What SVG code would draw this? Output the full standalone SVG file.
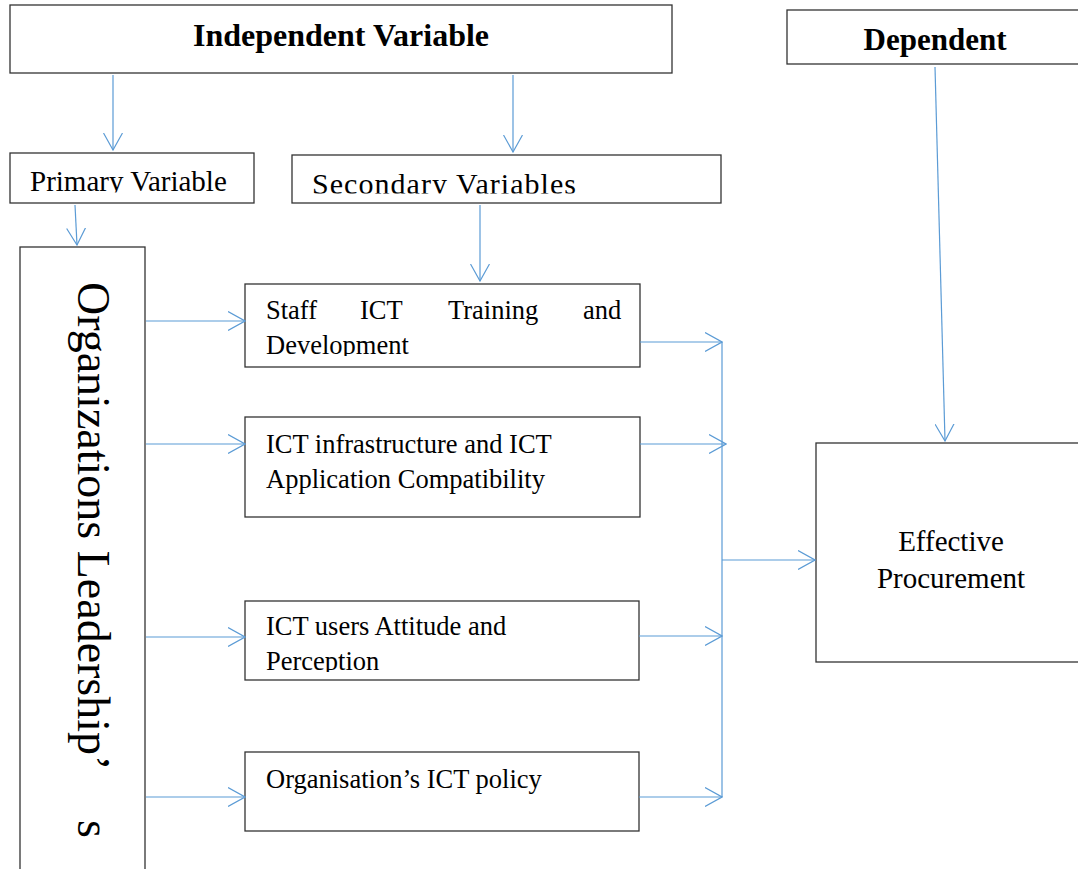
<svg xmlns="http://www.w3.org/2000/svg" width="1078" height="869" viewBox="0 0 1078 869">
<style>
.box{fill:#fff;stroke:#333;stroke-width:1.3}
.t{font-family:"Liberation Serif","Times New Roman",serif;fill:#000}
.b{font-weight:bold}
.c{fill:none;stroke:#5b9bd5;stroke-width:1.2}
</style>
<defs>
<marker id="ah" markerUnits="userSpaceOnUse" viewBox="0 0 18 20" refX="17" refY="10" markerWidth="18" markerHeight="20" orient="auto">
<path d="M0,0.5 L17,10 L0,19.5" fill="none" stroke="#5b9bd5" stroke-width="1.2"/>
</marker>
<clipPath id="cpPrim"><rect x="10" y="153" width="244" height="39.5"/></clipPath>
<clipPath id="cpSec"><rect x="292" y="155" width="429" height="38.5"/></clipPath>
<clipPath id="cpStaff"><rect x="245" y="284" width="395" height="72"/></clipPath>
<clipPath id="cpUsers"><rect x="245" y="601" width="394" height="71"/></clipPath>
</defs>
<rect x="0" y="0" width="1078" height="869" fill="#fff"/>

<g id="independent">
<rect class="box" x="10" y="5" width="662" height="68"/>
<text class="t b" x="341" y="46" font-size="32" text-anchor="middle">Independent Variable</text>
</g>
<g id="dependent">
<rect class="box" x="787" y="10" width="300" height="54"/>
<text class="t b" x="935" y="50" font-size="31" text-anchor="middle">Dependent</text>
</g>
<g id="primary">
<rect class="box" x="10" y="153" width="244" height="50"/>
<text class="t" x="30" y="191" font-size="29" clip-path="url(#cpPrim)">Primary Variable</text>
</g>
<g id="secondary">
<rect class="box" x="292" y="155" width="429" height="48"/>
<text class="t" x="312" y="193.5" font-size="30" textLength="264" clip-path="url(#cpSec)">Secondary Variables</text>
</g>
<g id="leadership">
<rect class="box" x="20" y="247" width="125" height="640"/>
<text class="t" font-size="46" transform="translate(78,282) rotate(90)">Organizations Leadership’</text>
<text class="t" font-size="46" transform="translate(78,820) rotate(90)">s</text>
</g>
<g id="training">
<rect class="box" x="245" y="284" width="395" height="83"/>
<g clip-path="url(#cpStaff)">
<text class="t" font-size="26.5" y="319"><tspan x="266">Staff</tspan><tspan x="360">ICT</tspan><tspan x="448">Training</tspan><tspan x="583">and</tspan></text>
<text class="t" font-size="26.5" x="266" y="354">Development</text>
</g>
</g>
<g id="infrastructure">
<rect class="box" x="245" y="417" width="395" height="100"/>
<text class="t" font-size="26.5" x="266" y="453">ICT infrastructure and ICT</text>
<text class="t" font-size="26.5" x="266" y="488">Application Compatibility</text>
</g>
<g id="attitude">
<rect class="box" x="245" y="601" width="394" height="79"/>
<g clip-path="url(#cpUsers)">
<text class="t" font-size="26.5" x="266" y="635">ICT users Attitude and</text>
<text class="t" font-size="26.5" x="266" y="670">Perception</text>
</g>
</g>
<g id="policy">
<rect class="box" x="245" y="752" width="394" height="79"/>
<text class="t" font-size="26.5" x="266" y="788">Organisation’s ICT policy</text>
</g>
<g id="procurement">
<rect class="box" x="816" y="443" width="270" height="219"/>
<text class="t" font-size="29" x="951" y="551" text-anchor="middle">Effective</text>
<text class="t" font-size="29" x="951" y="588" text-anchor="middle">Procurement</text>
</g>

<g id="connectors">
<line class="c" x1="113" y1="75" x2="113" y2="150" marker-end="url(#ah)"/>
<line class="c" x1="513" y1="75" x2="513" y2="152" marker-end="url(#ah)"/>
<line class="c" x1="75" y1="205" x2="77" y2="245" marker-end="url(#ah)"/>
<line class="c" x1="480" y1="205" x2="480" y2="281" marker-end="url(#ah)"/>
<line class="c" x1="935" y1="67" x2="945" y2="441" marker-end="url(#ah)"/>
<line class="c" x1="146" y1="321" x2="245" y2="321" marker-end="url(#ah)"/>
<line class="c" x1="146" y1="444" x2="245" y2="444" marker-end="url(#ah)"/>
<line class="c" x1="146" y1="637" x2="245" y2="637" marker-end="url(#ah)"/>
<line class="c" x1="146" y1="797" x2="245" y2="797" marker-end="url(#ah)"/>
<line class="c" x1="640" y1="342" x2="722" y2="342" marker-end="url(#ah)"/>
<line class="c" x1="640" y1="444" x2="726" y2="444" marker-end="url(#ah)"/>
<line class="c" x1="639" y1="636" x2="722" y2="636" marker-end="url(#ah)"/>
<line class="c" x1="639" y1="797" x2="722" y2="797" marker-end="url(#ah)"/>
<line class="c" x1="722" y1="342" x2="722" y2="797"/>
<line class="c" x1="722" y1="560" x2="815" y2="560" marker-end="url(#ah)"/>
</g>
</svg>
